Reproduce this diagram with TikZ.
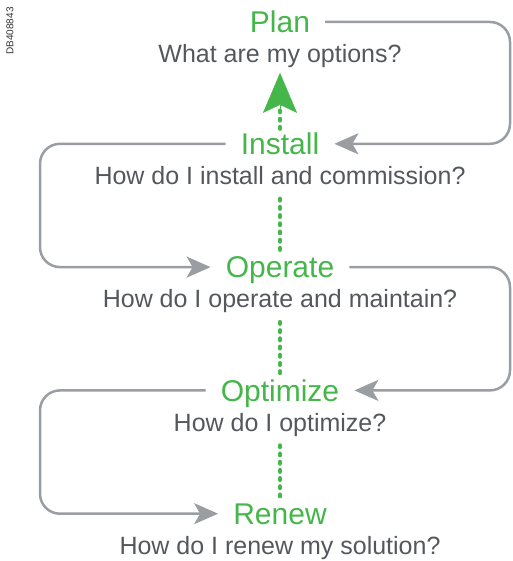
\documentclass[tikz,border=0pt]{standalone}
\usepackage{fontspec}
\setmainfont{Liberation Sans}
\usetikzlibrary{arrows.meta, positioning}
\definecolor{leafgreen}{HTML}{45B649}
\definecolor{lineGrey}{HTML}{9A9EA3}
\definecolor{textGrey}{HTML}{54585D}

\begin{document}
\begin{tikzpicture}[x=1pt, y=1pt, >=Stealth,
          every node/.style={inner sep=0pt, text depth=0pt},
          stage/.style={text=leafgreen, font=\fontsize{30}{30}\selectfont,
                        text height=21.5pt, inner xsep=15pt},
          quest/.style={text=textGrey, font=\fontsize{25}{25}\selectfont,
                        text height=17.5pt},
          flow/.style={draw=lineGrey, line width=2.5pt, rounded corners=20pt,
                       -{Stealth[length=24pt, width=21pt, inset=6pt]}},
          dots/.style={draw=leafgreen, line width=4pt, line cap=round,
                       dash pattern=on 2pt off 6.2pt},
          bigtip/.style={draw=leafgreen, line width=0.4pt,
                         -{Stealth[length=40pt, width=34pt, inset=8pt, fill=leafgreen]}}]
        \useasboundingbox (0,0) rectangle (512,-561);
        \coordinate (rgt) at (510,0);
        \coordinate (lft) at (40,0);
        \node[rotate=90, font=\fontsize{10}{10}\selectfont, text=black!80] (dbref) at (10,-31) {DB408843};
        \node[stage] (plan) at (280,-22) {Plan};
        \node[quest, below=12pt of plan]       (planq)     {What are my options?};
        \node[stage, below=70pt of planq]      (install)   {Install};
        \node[quest, below=12pt of install]    (installq)  {How do I install and commission?};
        \node[stage, below=71.5pt of installq] (operate)   {Operate};
        \node[quest, below=12pt of operate]    (operateq)  {How do I operate and maintain?};
        \node[stage, below=71.5pt of operateq] (optimize)  {Optimize};
        \node[quest, below=12pt of optimize]   (optimizeq) {How do I optimize?};
        \node[stage, below=71.5pt of optimizeq] (renew)    {Renew};
        \node[quest, below=12pt of renew]      (renewq)    {How do I renew my solution?};
        % green path back to planning
        \draw[dots, shorten <=4pt, shorten >=44pt] (install) -- (planq);
        \draw[bigtip, shorten <=20pt, shorten >=10pt] (install) -- (planq);
        \draw[dots, shorten <=14pt, shorten >=6pt] (installq) -- (operate);
        \draw[dots, shorten <=14pt, shorten >=6pt] (operateq) -- (optimize);
        \draw[dots, shorten <=14pt, shorten >=6pt] (optimizeq) -- (renew);
        % grey loop
        \draw[flow] (plan.east) -- (plan.east -| rgt) |- (install.east);
        \draw[flow] (install.west) -- (install.west -| lft) |- (operate.west);
        \draw[flow] (operate.east) -- (operate.east -| rgt) |- (optimize.east);
        \draw[flow] (optimize.west) -- (optimize.west -| lft) |- (renew.west);
      \end{tikzpicture}
\end{document}
